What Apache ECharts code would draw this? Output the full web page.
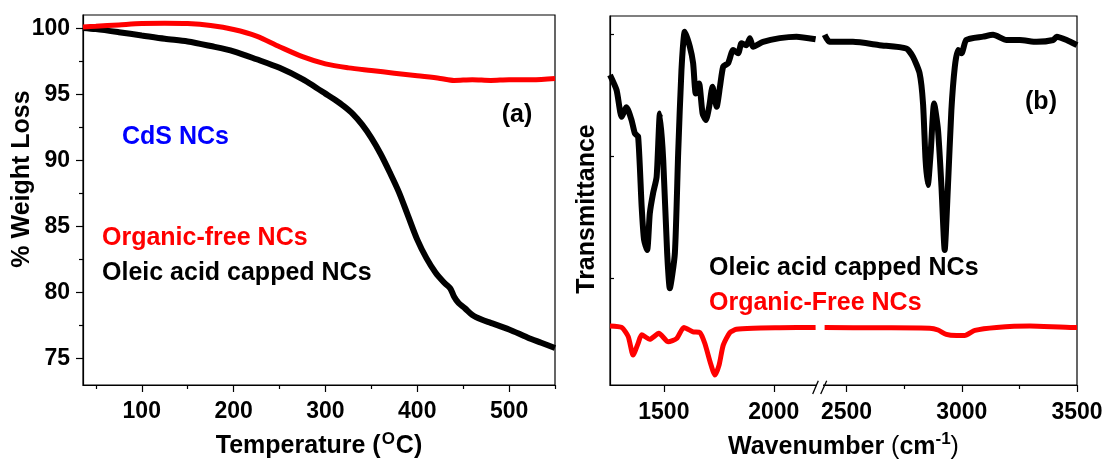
<!DOCTYPE html>
<html>
<head>
<meta charset="utf-8">
<script src="https://cdn.jsdelivr.net/npm/echarts@6/dist/echarts.min.js"></script>
<style>
html,body{margin:0;padding:0;background:#fff;}
#c{width:1105px;height:461px;}
</style>
</head>
<body>
<div id="c"></div>
<script>
// ---------- Data: panel (a) TGA ----------
const tgaTempBlack = [36, 50, 75, 100, 125, 150, 175, 200, 225, 250, 275, 290, 300, 310, 320, 330, 340, 350, 360, 370, 380, 390, 400, 410, 420, 430, 436, 440, 445, 452, 460, 470, 480, 500, 520, 535, 550];
const tgaWeightBlack = [100.02, 99.93, 99.7, 99.45, 99.2, 99.0, 98.65, 98.25, 97.65, 97.0, 96.15, 95.5, 95.05, 94.6, 94.1, 93.5, 92.7, 91.7, 90.5, 89.1, 87.6, 85.8, 84.0, 82.6, 81.5, 80.7, 80.3, 79.7, 79.2, 78.8, 78.3, 77.95, 77.7, 77.2, 76.6, 76.2, 75.8];
const tgaTempRed = [36, 50, 75, 100, 125, 150, 175, 200, 225, 250, 275, 300, 325, 350, 375, 400, 425, 440, 460, 480, 500, 525, 550];
const tgaWeightRed = [100.1, 100.15, 100.25, 100.35, 100.38, 100.35, 100.2, 99.9, 99.4, 98.6, 97.85, 97.3, 97.0, 96.8, 96.6, 96.4, 96.2, 96.05, 96.1, 96.05, 96.1, 96.1, 96.2];

// ---------- Data: panel (b) FTIR (arbitrary transmittance units) ----------
const wnBlackLow = [1255, 1285, 1308, 1330, 1353, 1368, 1383, 1399, 1410, 1424, 1436, 1451, 1467, 1482, 1497, 1515, 1527, 1550, 1565, 1580, 1595, 1618, 1633, 1645, 1660, 1676, 1691, 1706, 1721, 1740, 1755, 1770, 1792, 1815, 1838, 1853, 1876, 1891, 1906, 1951, 2027, 2103, 2190];
const trBlackLow = [84.0, 79.9, 72.7, 75.3, 71.8, 68.2, 67.3, 48.3, 39.3, 36.6, 46.5, 52.0, 56.4, 73.6, 61.0, 35.7, 26.2, 35.7, 62.8, 85.4, 95.7, 91.7, 87.2, 79.0, 81.7, 73.6, 71.8, 75.4, 80.8, 75.4, 80.8, 86.3, 87.2, 90.8, 89.9, 92.6, 92.1, 94.0, 91.7, 93.0, 94.0, 94.4, 93.7];
const wnBlackHigh = [2405, 2426, 2528, 2643, 2759, 2788, 2817, 2832, 2843, 2853, 2865, 2880, 2897, 2912, 2926, 2940, 2955, 2970, 2984, 2999, 3020, 3093, 3136, 3194, 3252, 3325, 3397, 3412, 3455, 3500];
const trBlackHigh = [94.9, 93.0, 93.0, 92.1, 91.2, 89.0, 84.5, 76.3, 61.0, 54.2, 62.8, 76.3, 69.1, 53.7, 36.6, 53.7, 74.5, 86.3, 90.8, 89.9, 93.5, 94.4, 94.9, 93.5, 93.5, 93.0, 93.5, 94.4, 93.5, 92.1];
const wnRedLow = [1255, 1308, 1338, 1360, 1383, 1399, 1436, 1477, 1520, 1558, 1591, 1633, 1664, 1686, 1712, 1732, 1751, 1770, 1800, 1830, 1906, 2027, 2190];
const trRedLow = [16.0, 15.6, 13.1, 8.1, 11.3, 13.6, 12.4, 14.0, 11.7, 12.6, 15.6, 14.4, 14.2, 11.3, 5.9, 2.7, 5.4, 10.8, 14.2, 15.1, 15.4, 15.5, 15.6];
const wnRedHigh = [2405, 2643, 2861, 2897, 2933, 2977, 3013, 3057, 3151, 3296, 3484, 3500];
const trRedHigh = [15.6, 15.5, 15.4, 14.9, 13.7, 13.4, 13.4, 14.8, 15.6, 16.0, 15.6, 15.6];

// ---------- Tick values ----------
const tempTicks = [100, 200, 300, 400, 500];
const tempMinorTicks = [50, 150, 250, 350, 450, 550];
const weightTicks = [75, 80, 85, 90, 95, 100];
const weightMinorTicks = [77.5, 82.5, 87.5, 92.5, 97.5];
const wnTicksLow = [1500, 2000];
const wnTicksHigh = [2500, 3000, 3500];
const wnMinorTicksHigh = [2750, 3250];
const trTicks = [29, 62, 95];

const zip = (a, b) => a.map((v, i) => [v, b[i]]);
const FONT = '"Liberation Sans", Arial, sans-serif';
const lblStyle = { color: '#000', fontSize: 23, fontWeight: 'bold', fontFamily: FONT, formatter: v => String(v) };
const axLine = { show: true, lineStyle: { color: '#000', width: 1.2 } };

function majorX(grid, min, max, ticks, margin) {
  return {
    type: 'value', gridIndex: grid, min: min, max: max, position: 'bottom',
    axisLine: axLine,
    axisTick: { show: true, inside: false, length: 7, customValues: ticks, lineStyle: { color: '#000', width: 1.2 } },
    axisLabel: Object.assign({ show: true, margin: margin, customValues: ticks }, lblStyle),
    splitLine: { show: false }
  };
}
function minorX(grid, min, max, ticks) {
  return {
    type: 'value', gridIndex: grid, min: min, max: max, position: 'bottom',
    axisLine: { show: false },
    axisTick: { show: true, inside: false, length: 4, customValues: ticks, lineStyle: { color: '#000', width: 1.2 } },
    axisLabel: { show: false },
    splitLine: { show: false }
  };
}

const option = {
  animation: false,
  backgroundColor: '#fff',
  grid: [
    { left: 83, top: 15, width: 472, height: 370, outerBoundsMode: 'none', containLabel: false, show: true, borderColor: '#000', borderWidth: 1.2, backgroundColor: 'transparent' },
    { left: 610, top: 16, width: 210, height: 369, outerBoundsMode: 'none', containLabel: false },
    { left: 820, top: 16, width: 257, height: 369, outerBoundsMode: 'none', containLabel: false },
    { left: 610, top: 16, width: 467, height: 369, outerBoundsMode: 'none', containLabel: false, show: true, borderColor: '#000', borderWidth: 1.2, backgroundColor: 'transparent' }
  ],
  xAxis: [
    Object.assign(majorX(0, 36, 550, tempTicks, 15), {
      name: '{a|Temperature (}{s|O}{a|C)}', nameLocation: 'middle', nameGap: 46,
      nameTextStyle: { rich: {
        a: { fontSize: 25, fontWeight: 'bold', fontFamily: FONT, color: '#000', lineHeight: 30 },
        s: { fontSize: 17, fontWeight: 'bold', fontFamily: FONT, color: '#000', verticalAlign: 'top', lineHeight: 30, padding: [0, 1, 0, 1] }
      } }
    }),
    minorX(0, 36, 550, tempMinorTicks),
    majorX(1, 1255, 2210, wnTicksLow, 16),
    majorX(2, 2385, 3500, wnTicksHigh, 16),
    minorX(2, 2385, 3500, wnMinorTicksHigh),
    {
      type: 'value', gridIndex: 3, min: 0, max: 1, position: 'bottom',
      axisLine: { show: false }, axisTick: { show: false }, axisLabel: { show: false }, splitLine: { show: false },
      name: '{a|Wavenumber }{p|(}{a|cm}{s|-1}{p|)}', nameLocation: 'middle', nameGap: 46,
      nameTextStyle: { rich: {
        a: { fontSize: 25, fontWeight: 'bold', fontFamily: FONT, color: '#000', lineHeight: 32 },
        p: { fontSize: 25, fontWeight: 'normal', fontFamily: FONT, color: '#000', lineHeight: 32 },
        s: { fontSize: 17, fontWeight: 'bold', fontFamily: FONT, color: '#000', verticalAlign: 'top', lineHeight: 32 }
      } }
    }
  ],
  yAxis: [
    {
      type: 'value', gridIndex: 0, min: 73, max: 101, position: 'left',
      axisLine: axLine,
      axisTick: { show: true, inside: false, length: 7, customValues: weightTicks, lineStyle: { color: '#000', width: 1.2 } },
      axisLabel: Object.assign({ show: true, margin: 13, customValues: weightTicks }, lblStyle),
      splitLine: { show: false }
    },
    {
      type: 'value', gridIndex: 0, min: 73, max: 101, position: 'left',
      axisLine: { show: false },
      axisTick: { show: true, inside: false, length: 4, customValues: weightMinorTicks, lineStyle: { color: '#000', width: 1.2 } },
      axisLabel: { show: false }, splitLine: { show: false }
    },
    {
      type: 'value', gridIndex: 1, min: 0, max: 100, position: 'left',
      axisLine: axLine,
      axisTick: { show: true, inside: true, length: 4, customValues: trTicks, lineStyle: { color: '#000', width: 1.2 } },
      axisLabel: { show: false }, splitLine: { show: false }
    },
    {
      type: 'value', gridIndex: 2, min: 0, max: 100, position: 'left',
      axisLine: { show: false }, axisTick: { show: false }, axisLabel: { show: false }, splitLine: { show: false }
    },
    {
      type: 'value', gridIndex: 3, min: 0, max: 1, show: false
    }
  ],
  series: [
    { type: 'line', xAxisIndex: 0, yAxisIndex: 0, data: zip(tgaTempBlack, tgaWeightBlack), showSymbol: false, smooth: 0.3, lineStyle: { color: '#000', width: 6 }, itemStyle: { color: '#000' } },
    { type: 'line', xAxisIndex: 0, yAxisIndex: 0, data: zip(tgaTempRed, tgaWeightRed), showSymbol: false, smooth: 0.3, lineStyle: { color: '#ff0000', width: 5 }, itemStyle: { color: '#ff0000' } },
    { type: 'line', xAxisIndex: 2, yAxisIndex: 2, data: zip(wnBlackLow, trBlackLow), showSymbol: false, smooth: 0.2, lineStyle: { color: '#000', width: 6 } },
    { type: 'line', xAxisIndex: 3, yAxisIndex: 3, data: zip(wnBlackHigh, trBlackHigh), showSymbol: false, smooth: 0.2, lineStyle: { color: '#000', width: 6 } },
    { type: 'line', xAxisIndex: 2, yAxisIndex: 2, data: zip(wnRedLow, trRedLow), showSymbol: false, smooth: 0.2, lineStyle: { color: '#ff0000', width: 5 } },
    { type: 'line', xAxisIndex: 3, yAxisIndex: 3, data: zip(wnRedHigh, trRedHigh), showSymbol: false, smooth: 0.2, lineStyle: { color: '#ff0000', width: 5 } }
  ],
  graphic: [
    { type: 'text', x: 22, y: 179, rotation: Math.PI / 2, z: 100, style: { text: '% Weight Loss', fill: '#000', font: 'bold 25px ' + FONT, textAlign: 'center', textVerticalAlign: 'middle' } },
    { type: 'text', x: 587, y: 209, rotation: Math.PI / 2, z: 100, style: { text: 'Transmittance', fill: '#000', font: 'bold 25px ' + FONT, textAlign: 'center', textVerticalAlign: 'middle' } },
    { type: 'text', x: 517, y: 115, z: 100, style: { text: '(a)', fill: '#000', font: 'bold 25px ' + FONT, textAlign: 'center', textVerticalAlign: 'middle' } },
    { type: 'text', x: 122, y: 137, z: 100, style: { text: 'CdS NCs', fill: '#0000ff', font: 'bold 25px ' + FONT, textAlign: 'left', textVerticalAlign: 'middle' } },
    { type: 'text', x: 102, y: 238, z: 100, style: { text: 'Organic-free NCs', fill: '#ff0000', font: 'bold 25px ' + FONT, textAlign: 'left', textVerticalAlign: 'middle' } },
    { type: 'text', x: 102, y: 273, z: 100, style: { text: 'Oleic acid capped NCs', fill: '#000', font: 'bold 25px ' + FONT, textAlign: 'left', textVerticalAlign: 'middle' } },
    { type: 'text', x: 1041, y: 102, z: 100, style: { text: '(b)', fill: '#000', font: 'bold 25px ' + FONT, textAlign: 'center', textVerticalAlign: 'middle' } },
    { type: 'text', x: 709, y: 268, z: 100, style: { text: 'Oleic acid capped NCs', fill: '#000', font: 'bold 25px ' + FONT, textAlign: 'left', textVerticalAlign: 'middle' } },
    { type: 'text', x: 709, y: 303, z: 100, style: { text: 'Organic-Free NCs', fill: '#ff0000', font: 'bold 25px ' + FONT, textAlign: 'left', textVerticalAlign: 'middle' } },
    // axis break mark
    { type: 'rect', z: 100, shape: { x: 817, y: 382, width: 6, height: 6 }, style: { fill: '#fff' } },
    { type: 'line', z: 101, shape: { x1: 812.7, y1: 394, x2: 818.3, y2: 380.7 }, style: { stroke: '#000', lineWidth: 1.3 } },
    { type: 'line', z: 101, shape: { x1: 820.7, y1: 394, x2: 826.7, y2: 380.7 }, style: { stroke: '#000', lineWidth: 1.3 } }
  ]
};

const chart = echarts.init(document.getElementById('c'), null, { renderer: 'canvas' });
chart.setOption(option);
</script>
</body>
</html>
